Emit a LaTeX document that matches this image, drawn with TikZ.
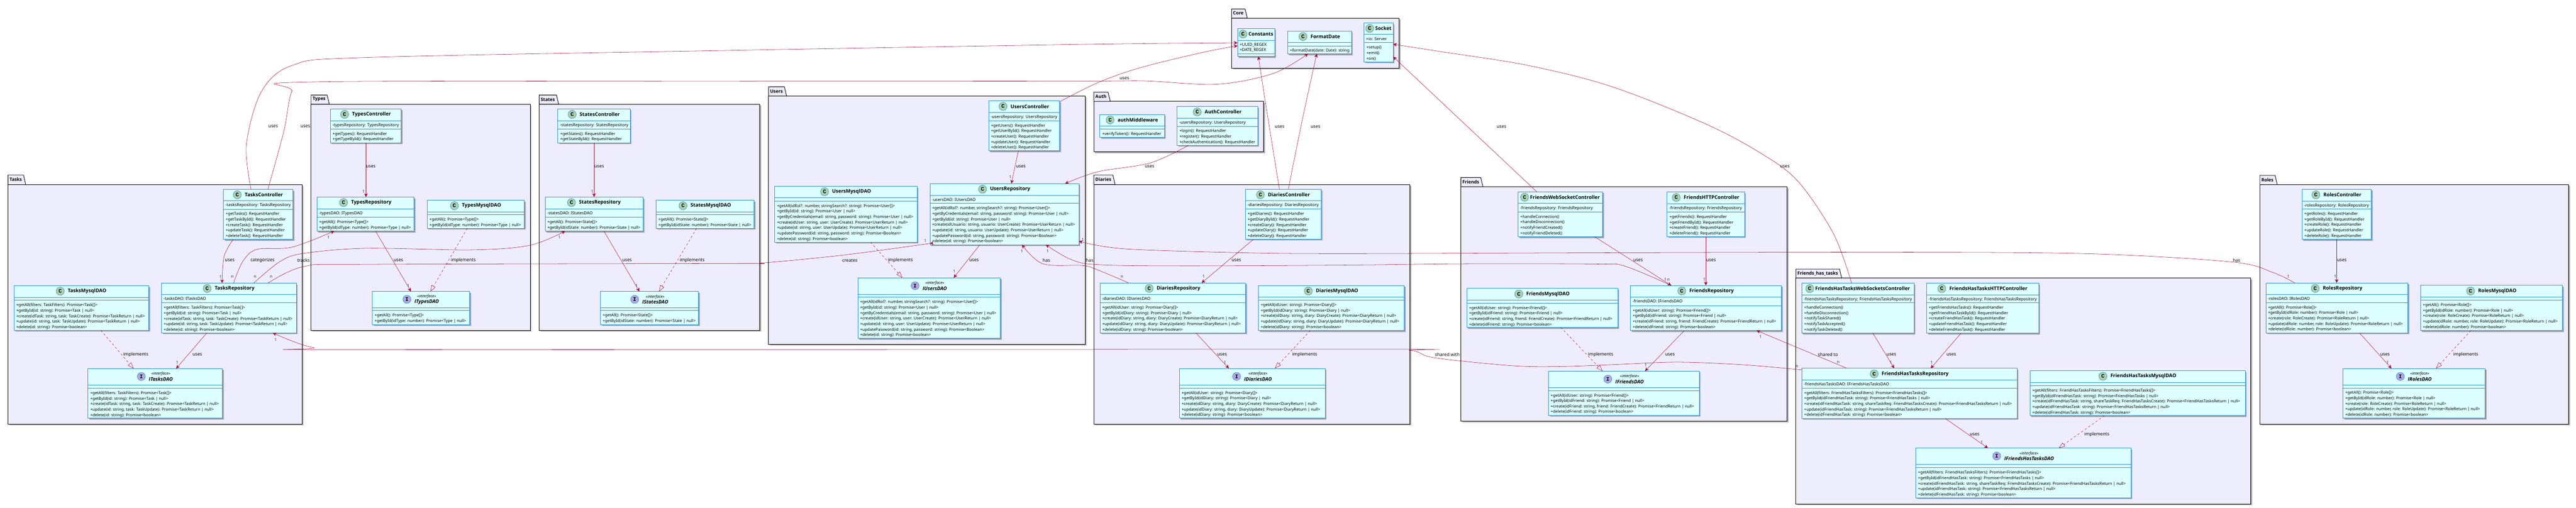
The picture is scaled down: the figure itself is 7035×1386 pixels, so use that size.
\documentclass[tikz,border=0pt]{standalone}
\usepackage{fontspec}
\setmainfont{Noto Sans}
\newfontfamily\boldfam{Open Sans}
\newfontfamily\iconfont{Liberation Mono}
\usetikzlibrary{arrows.meta,shadows}
\definecolor{edgec}{HTML}{A80036}
\definecolor{clsfill}{HTML}{DDFFFF}
\definecolor{clsline}{HTML}{2A93C9}
\definecolor{pkgfill}{HTML}{EEEDFE}
\definecolor{iconc}{HTML}{ADD1B2}
\definecolor{iconi}{HTML}{B4A7E5}
\newcommand\memfont{\fontsize{11.2}{15}\selectfont}
\newcommand\methfont{\fontsize{10.9}{15}\selectfont}
\newcommand\titlefont{\boldfam\fontsize{13.4}{16}\selectfont\bfseries}
\newcommand\pkgfont{\boldfam\fontsize{12.4}{15}\selectfont\bfseries}
\newcommand\labfont{\fontsize{12.2}{15}\selectfont}
\newcommand\multfont{\fontsize{11.4}{15}\selectfont}
\newdimen\tabw
\tikzset{
  softshadow/.style={drop shadow={shadow xshift=4.5pt,shadow yshift=-4.5pt,opacity=.14,fill=black},
    drop shadow={shadow xshift=3pt,shadow yshift=-3pt,opacity=.22,fill=black}},
  pkgbox/.style={draw=black,line width=1.3pt,fill=pkgfill,inner sep=0pt,outer sep=0pt,anchor=north west,softshadow},
  pkgtab/.style={draw=black,line width=1.3pt,fill=pkgfill,line join=round},
  pkgtext/.style={font=\pkgfont,anchor=west,inner sep=0pt},
  clsbox/.style={draw=clsline,line width=1.1pt,fill=clsfill,inner sep=0pt,outer sep=0pt,anchor=north west,softshadow},
  clssep/.style={draw=clsline,line width=.9pt},
  clsicon/.style={circle,draw=clsline,line width=.9pt,minimum size=22pt,inner sep=0pt,font=\iconfont\fontsize{15}{15}\selectfont\bfseries},
  clstitle/.style={font=\titlefont,inner sep=0pt},
  memtext/.style={font=\memfont,align=left,anchor=north west,inner sep=0pt},
  methtext/.style={font=\methfont,align=left,anchor=north west,inner sep=0pt},
  edgelab/.style={font=\labfont,inner sep=0pt},
  multlab/.style={font=\multfont,inner sep=0pt,text=black!80},
  rel/.style={draw=edgec,line width=.75pt,line join=round,-{Stealth[inset=3pt,length=10pt,width=9.5pt]}},
  impl/.style={draw=edgec,line width=.75pt,dashed,dash pattern=on 6pt off 6pt,-{Triangle[open,length=17pt,width=12pt,line width=.75pt,fill=none]}},
  curve/.style={smooth,tension=.55}
}
\newcount\labn
\newcommand\lab[3]{\global\advance\labn by 1 \node[edgelab] (lab\the\labn) at (#1,#2+1.3) {#3};}
\newcommand\mult[3]{\global\advance\labn by 1 \node[multlab] (lab\the\labn) at (#1,#2) {#3};}
% package: id, x1, tab top, body top, x2, y2, title
\newcommand\pkg[7]{%
  \pgfmathsetmacro\pw{#5-#2}\pgfmathsetmacro\ph{#6-#4}%
  \pgfinterruptpicture\setbox0=\hbox{\pkgfont #7}\global\tabw=\wd0 \endpgfinterruptpicture
  \pgfmathsetmacro\tabr{#2+4+\tabw+4.5}\pgfmathsetmacro\tabs{\tabr+6}%
  \pgfmathsetmacro\pty{(#3+#4)/2-.5}%
  \node[pkgbox,minimum width=\pw pt,minimum height=\ph pt] (#1) at (#2,#4) {};
  \draw[pkgtab] (#2,#4) -- (#2,#3) -- (\tabr,#3) -- (\tabs,#4) -- cycle;
  \node[pkgtext] (#1-title) at (#2+4,\pty) {#7};
}
\newcommand\tgap{9}
% class: id, x1, y1, x2, y2, s1, s2, kind (C/I), title ; then \clsnext{attrs}{methods}
\newcommand\cls[9]{%
  \pgfmathsetmacro\cw{#4-#2}\pgfmathsetmacro\ch{#5-#3}%
  \pgfmathsetmacro\hy{(#3+#6)/2-.7}%
  \pgfmathsetmacro\tx{(#2+#4)/2+(22.5+\tgap)/2}%
  \pgfmathsetmacro\mx{#2+5.5}%
  \pgfmathsetmacro\nx{#2+6.2}%
  \pgfmathsetmacro\ay{#6+5.2}\pgfmathsetmacro\my{#7+6.3}%
  \node[clsbox,minimum width=\cw pt,minimum height=\ch pt] (#1) at (#2,#3) {};
  \draw[clssep] (#1.west |- 0,#6) -- (#1.east |- 0,#6);
  \draw[clssep] (#1.west |- 0,#7) -- (#1.east |- 0,#7);
  \ifx C#8%
    \node[clstitle] (#1-t) at (\tx,\hy) {#9};
    \node[clsicon,fill=iconc,anchor=east] (#1-i) at ([xshift=-\tgap pt]#1-t.west) {C};
  \else
    \node[clstitle,align=center] (#1-t) at (\tx,\hy) {{\rmfamily\fontsize{10.6}{18.5}\selectfont\mdseries\itshape «interface»}\\{\itshape #9}};
    \node[clsicon,fill=iconi,anchor=east] (#1-i) at ([xshift=-\tgap pt]#1-t.west) {I};
  \fi
  \def\curid{#1}%
}
\newcommand\clsnext[2]{%
  \def\tmpa{#1}\ifx\tmpa\empty\else\node[memtext] (\curid-a) at (\mx,\ay) {\strut #1};\fi
  \def\tmpb{#2}\ifx\tmpb\empty\else\node[methtext] (\curid-m) at (\nx,\my) {\strut #2};\fi
}
\begin{document}
\begin{tikzpicture}[x=1pt,y=-1pt]
\useasboundingbox (0,0) rectangle (7035,1386);
\fill[white] (0,0) rectangle (7035,1386);
% ---------- packages
\pkg{Tasks}{22}{478}{504}{825}{1158}{Tasks}
\pkg{Types}{849.5}{259.5}{284.3}{1448}{902}{Types}
\pkg{States}{1472.6}{259.5}{284.3}{2075}{902}{States}
\pkg{Users}{2099}{237}{262}{2963.6}{940}{Users}
\pkg{Core}{3363.4}{24.4}{49.3}{3820.6}{186}{Core}
\pkg{Auth}{2987.3}{251.7}{277}{3450.5}{414.4}{Auth}
\pkg{Diaries}{2987.3}{478}{503.8}{3850.7}{1158}{Diaries}
\pkg{Friends}{3989.7}{485}{510}{4880.6}{1150}{Friends}
\pkg{FHT}{4904.5}{734.8}{759.3}{6147}{1376}{Friends\_has\_tasks}
\pkg{Roles}{6171.4}{478.7}{504}{7014.6}{1158}{Roles}
% ---------- Tasks
\cls{TC}{610}{517}{800}{654}{548}{571}{C}{TasksController}
\clsnext{-tasksRepository: TasksRepository}{+getTasks(): RequestHandler\\+getTaskById(): RequestHandler\\+createTask(): RequestHandler\\+updateTask(): RequestHandler\\+deleteTask(): RequestHandler}
\cls{TR}{441}{773}{809}{909}{804}{827}{C}{TasksRepository}
\clsnext{-tasksDAO: ITasksDAO}{+getAll(filters: TaskFilters): Promise<Task[]>\\+getById(id: string): Promise<Task | null>\\+create(idTask: string, task: TaskCreate): Promise<TaskReturn | null>\\+update(id: string, task: TaskUpdate): Promise<TaskReturn | null>\\+delete(id: string): Promise<boolean>}
\cls{TM}{38}{780}{406}{902}{812}{820}{C}{TasksMysqlDAO}
\clsnext{}{+getAll(filters: TaskFilters): Promise<Task[]>\\+getById(id: string): Promise<Task | null>\\+create(idTask: string, task: TaskCreate): Promise<TaskReturn | null>\\+update(id: string, task: TaskUpdate): Promise<TaskReturn | null>\\+delete(id: string): Promise<boolean>}
\cls{TI}{240}{1006.5}{607}{1142}{1051}{1060}{I}{ITasksDAO}
\clsnext{}{+getAll(filters: TaskFilters): Promise<Task[]>\\+getById(id: string): Promise<Task | null>\\+create(idTask: string, task: TaskCreate): Promise<TaskReturn | null>\\+update(id: string, task: TaskUpdate): Promise<TaskReturn | null>\\+delete(id: string): Promise<boolean>}
% ---------- Types
\cls{YC}{902}{297}{1095.7}{390}{329}{352}{C}{TypesController}
\clsnext{-typesRepository: TypesRepository}{+getTypes(): RequestHandler\\+getTypeById(): RequestHandler}
\cls{YR}{865.5}{538}{1131}{631}{570}{593}{C}{TypesRepository}
\clsnext{-typesDAO: ITypesDAO}{+getAll(): Promise<Type[]>\\+getById(idType: number): Promise<Type | null>}
\cls{YM}{1166.5}{546.6}{1432}{623.7}{578.4}{586}{C}{TypesMysqlDAO}
\clsnext{}{+getAll(): Promise<Type[]>\\+getById(idType: number): Promise<Type | null>}
\cls{YI}{1016.6}{796}{1282.5}{886.5}{840.6}{848}{I}{ITypesDAO}
\clsnext{}{+getAll(): Promise<Type[]>\\+getById(idType: number): Promise<Type | null>}
% ---------- States
\cls{SC}{1523.6}{297}{1720.7}{390}{329}{352}{C}{StatesController}
\clsnext{-statesRepository: StatesRepository}{+getStates(): RequestHandler\\+getStateById(): RequestHandler}
\cls{SR}{1488.5}{538}{1756.4}{631}{570}{593}{C}{StatesRepository}
\clsnext{-statesDAO: IStatesDAO}{+getAll(): Promise<State[]>\\+getById(idState: number): Promise<State | null>}
\cls{SM}{1791.5}{546.6}{2059.3}{623.7}{578.4}{586}{C}{StatesMysqlDAO}
\clsnext{}{+getAll(): Promise<State[]>\\+getById(idState: number): Promise<State | null>}
\cls{SI}{1639.7}{796}{1907.5}{886.5}{840.6}{848}{I}{IStatesDAO}
\clsnext{}{+getAll(): Promise<State[]>\\+getById(idState: number): Promise<State | null>}
% ---------- Users
\cls{UC}{2700}{275.4}{2893.5}{412}{307}{329.5}{C}{UsersController}
\clsnext{-usersRepository: UsersRepository}{+getUsers(): RequestHandler\\+getUserById(): RequestHandler\\+createUser(): RequestHandler\\+updateUser(): RequestHandler\\+deleteUser(): RequestHandler}
\cls{UR}{2539.5}{501.3}{2946.4}{668.3}{533.5}{555.4}{C}{UsersRepository}
\clsnext{-usersDAO: IUsersDAO}{+getAll(idRol?: number, stringSearch?: string): Promise<User[]>\\+getByCredentials(email: string, password: string): Promise<User | null>\\+getById(id: string): Promise<User | null>\\+create(idUsuario: string, usuario: UserCreate): Promise<UserReturn | null>\\+update(id: string, usuario: UserUpdate): Promise<UserReturn | null>\\+updatePassword(id: string, password: string): Promise<Boolean>\\+delete(id: string): Promise<boolean>}
\cls{UM}{2115.4}{508.5}{2504.5}{661.2}{540}{548.7}{C}{UsersMysqlDAO}
\clsnext{}{+getAll(idRol?: number, stringSearch?: string): Promise<User[]>\\+getById(id: string): Promise<User | null>\\+getByCredentials(email: string, password: string): Promise<User | null>\\+create(idUser: string, user: UserCreate): Promise<UserReturn | null>\\+update(id: string, user: UserUpdate): Promise<UserReturn | null>\\+updatePassword(id: string, password: string): Promise<Boolean>\\+delete(id: string): Promise<boolean>}
\cls{UI}{2342.5}{758.5}{2731.5}{924}{803.5}{811.5}{I}{IUsersDAO}
\clsnext{}{+getAll(idRol?: number, stringSearch?: string): Promise<User[]>\\+getById(id: string): Promise<User | null>\\+getByCredentials(email: string, password: string): Promise<User | null>\\+create(idUser: string, user: UserCreate): Promise<UserReturn | null>\\+update(id: string, user: UserUpdate): Promise<UserReturn | null>\\+updatePassword(id: string, password: string): Promise<Boolean>\\+delete(id: string): Promise<boolean>}
% ---------- Core
\renewcommand\tgap{3.5}
\cls{KC}{3379.7}{77.5}{3481}{154}{109.6}{146.4}{C}{Constants}
\clsnext{+UUID\_REGEX\\+DATE\_REGEX}{}
\renewcommand\tgap{9}
\cls{KF}{3516.5}{84.7}{3690.7}{147}{116}{125}{C}{FormatDate}
\clsnext{}{+formatDate(date: Date): string}
\renewcommand\tgap{3.5}
\cls{KS}{3725}{62.4}{3804.7}{169}{93.9}{116.4}{C}{Socket}
\clsnext{+io: Server}{+setup()\\+emit()\\+on()}
\renewcommand\tgap{9}
% ---------- Auth
\cls{AM}{3003.6}{312.4}{3179.7}{375}{344}{352.6}{C}{authMiddleware}
\clsnext{}{+verifyToken(): RequestHandler}
\cls{AC}{3214.6}{290.4}{3434.7}{397}{322.5}{344.5}{C}{AuthController}
\clsnext{-usersRepository: UsersRepository}{+login(): RequestHandler\\+register(): RequestHandler\\+checkAuthentication(): RequestHandler}
% ---------- Diaries
\cls{DC}{3400.7}{516.7}{3608}{653}{548.3}{570.8}{C}{DiariesController}
\clsnext{-diariesRepository: DiariesRepository}{+getDiaries(): RequestHandler\\+getDiaryById(): RequestHandler\\+createDiary(): RequestHandler\\+updateDiary(): RequestHandler\\+deleteDiary(): RequestHandler}
\cls{DR}{3003.8}{772.5}{3401.4}{909}{804}{826.5}{C}{DiariesRepository}
\clsnext{-diariesDAO: IDiariesDAO}{+getAll(idUser: string): Promise<Diary[]>\\+getById(idDiary: string): Promise<Diary | null>\\+create(idDiary: string, diary: DiaryCreate): Promise<DiaryReturn | null>\\+update(idDiary: string, diary: DiaryUpdate): Promise<DiaryReturn | null>\\+delete(idDiary: string): Promise<boolean>}
\cls{DM}{3436.6}{779.6}{3834.7}{902.6}{811.5}{819.5}{C}{DiariesMysqlDAO}
\clsnext{}{+getAll(idUser: string): Promise<Diary[]>\\+getById(idDiary: string): Promise<Diary | null>\\+create(idDiary: string, diary: DiaryCreate): Promise<DiaryReturn | null>\\+update(idDiary: string, diary: DiaryUpdate): Promise<DiaryReturn | null>\\+delete(idDiary: string): Promise<boolean>}
\cls{DI}{3220.6}{1006}{3618.8}{1142}{1051.4}{1059.4}{I}{IDiariesDAO}
\clsnext{}{+getAll(idUser: string): Promise<Diary[]>\\+getById(idDiary: string): Promise<Diary | null>\\+create(idDiary: string, diary: DiaryCreate): Promise<DiaryReturn | null>\\+update(idDiary: string, diary: DiaryUpdate): Promise<DiaryReturn | null>\\+delete(idDiary: string): Promise<boolean>}
% ---------- Friends
\renewcommand\tgap{3.5}
\cls{FW}{4145.5}{523.5}{4376.5}{646.5}{555.4}{578.4}{C}{FriendsWebSocketController}
\clsnext{-friendsRepository: FriendsRepository}{+handleConnection()\\+handleDisconnection()\\+notifyFriendCreated()\\+notifyFriendDeleted()}
\renewcommand\tgap{9}
\cls{FH}{4552.8}{524}{4764}{645.8}{556.3}{579}{C}{FriendsHTTPController}
\clsnext{-friendsRepository: FriendsRepository}{+getFriends(): RequestHandler\\+getFriendById(): RequestHandler\\+createFriend(): RequestHandler\\+deleteFriend(): RequestHandler}
\cls{FR}{4452.5}{779.5}{4864.5}{902.5}{811}{834.5}{C}{FriendsRepository}
\clsnext{-friendsDAO: IFriendsDAO}{+getAll(idUser: string): Promise<Friend[]>\\+getById(idFriend: string): Promise<Friend | null>\\+create(idFriend: string, friend: FriendCreate): Promise<FriendReturn | null>\\+delete(idFriend: string): Promise<boolean>}
\cls{FM}{4005.6}{787.6}{4417.8}{894}{819.5}{827.5}{C}{FriendsMysqlDAO}
\clsnext{}{+getAll(idUser: string): Promise<Friend[]>\\+getById(idFriend: string): Promise<Friend | null>\\+create(idFriend: string, friend: FriendCreate): Promise<FriendReturn | null>\\+delete(idFriend: string): Promise<boolean>}
\cls{FI}{4228.6}{1013.4}{4640.6}{1134}{1058.5}{1066.4}{I}{IFriendsDAO}
\clsnext{}{+getAll(idUser: string): Promise<Friend[]>\\+getById(idFriend: string): Promise<Friend | null>\\+create(idFriend: string, friend: FriendCreate): Promise<FriendReturn | null>\\+delete(idFriend: string): Promise<boolean>}
% ---------- Friends_has_tasks
\renewcommand\tgap{3.5}
\cls{HW}{4920.6}{773}{5226.9}{909.7}{804.6}{826.7}{C}{FriendsHasTasksWebSocketsController}
\clsnext{-friendsHasTasksRepository: FriendsHasTasksRepository}{+handleConnection()\\+handleDisconnection()\\+notifyTaskShared()\\+notifyTaskAccepted()\\+notifyTaskDeleted()}
\renewcommand\tgap{9}
\cls{HH}{5261.3}{773}{5567.6}{909.7}{804.6}{826.7}{C}{FriendsHasTasksHTTPController}
\clsnext{-friendsHasTasksRepository: FriendsHasTasksRepository}{+getFriendsHasTasks(): RequestHandler\\+getFriendHasTaskById(): RequestHandler\\+createFriendHasTask(): RequestHandler\\+updateFriendHasTask(): RequestHandler\\+deleteFriendHasTask(): RequestHandler}
\cls{HR}{4920.6}{1005.8}{5508.5}{1142.5}{1037.5}{1059.6}{C}{FriendsHasTasksRepository}
\clsnext{-friendsHasTasksDAO: IFriendsHasTasksDAO}{+getAll(filters: FriendHasTasksFilters): Promise<FriendHasTasks[]>\\+getById(idFriendHasTask: string): Promise<FriendHasTasks | null>\\+create(idFriendHasTask: string, shareTaskReq: FriendHasTasksCreate): Promise<FriendHasTasksReturn | null>\\+update(idFriendHasTask: string): Promise<FriendHasTasksReturn | null>\\+delete(idFriendHasTask: string): Promise<boolean>}
\cls{HM}{5543.7}{1012.4}{6131.8}{1135}{1044}{1053}{C}{FriendsHasTasksMysqlDAO}
\clsnext{}{+getAll(filters: FriendHasTasksFilters): Promise<FriendHasTasks[]>\\+getById(idFriendHasTask: string): Promise<FriendHasTasks | null>\\+create(idFriendHasTask: string, shareTaskReq: FriendHasTasksCreate): Promise<FriendHasTasksReturn | null>\\+update(idFriendHasTask: string): Promise<FriendHasTasksReturn | null>\\+delete(idFriendHasTask: string): Promise<boolean>}
\cls{HI}{5231.6}{1223.7}{5819.6}{1359}{1268.5}{1277}{I}{IFriendsHasTasksDAO}
\clsnext{}{+getAll(filters: FriendHasTasksFilters): Promise<FriendHasTasks[]>\\+getById(idFriendHasTask: string): Promise<FriendHasTasks | null>\\+create(idFriendHasTask: string, shareTaskReq: FriendHasTasksCreate): Promise<FriendHasTasksReturn | null>\\+update(idFriendHasTask: string): Promise<FriendHasTasksReturn | null>\\+delete(idFriendHasTask: string): Promise<boolean>}
% ---------- Roles
\cls{RC}{6286.6}{516.4}{6476}{653.5}{549}{570.5}{C}{RolesController}
\clsnext{-rolesRepository: RolesRepository}{+getRoles(): RequestHandler\\+getRoleById(): RequestHandler\\+createRole(): RequestHandler\\+updateRole(): RequestHandler\\+deleteRole(): RequestHandler}
\cls{RR}{6187.8}{772.6}{6575.5}{909}{804}{826}{C}{RolesRepository}
\clsnext{-rolesDAO: IRolesDAO}{+getAll(): Promise<Role[]>\\+getById(idRole: number): Promise<Role | null>\\+create(role: RoleCreate): Promise<RoleReturn | null>\\+update(idRole: number, role: RoleUpdate): Promise<RoleReturn | null>\\+delete(idRole: number): Promise<boolean>}
\cls{RM}{6610.5}{779.3}{6998}{902.4}{811.5}{819.4}{C}{RolesMysqlDAO}
\clsnext{}{+getAll(): Promise<Role[]>\\+getById(idRole: number): Promise<Role | null>\\+create(role: RoleCreate): Promise<RoleReturn | null>\\+update(idRole: number, role: RoleUpdate): Promise<RoleReturn | null>\\+delete(idRole: number): Promise<boolean>}
\cls{RI}{6398.3}{1006.2}{6786.6}{1142.2}{1051.4}{1059.3}{I}{IRolesDAO}
\clsnext{}{+getAll(): Promise<Role[]>\\+getById(idRole: number): Promise<Role | null>\\+create(role: RoleCreate): Promise<RoleReturn | null>\\+update(idRole: number, role: RoleUpdate): Promise<RoleReturn | null>\\+delete(idRole: number): Promise<boolean>}
% ---------- long connectors
\draw[rel] plot[curve] coordinates {(685.6,0 |- TC.north) (673,395) (714,250) (800,178) (1000,157) (2000,137.5) (3000,120.5) (KC.west |- 0,117)};
\draw[rel] plot[curve] coordinates {(731.5,0 |- TC.north) (775,359) (797,250) (840,224) (2000,222) (2950,221.5) (3127,221) (3323,230) (3476,201) (3572,0 |- KF.south)};
\draw[rel] plot[curve] coordinates {(UC.east |- 0,278) (3000,225) (3117,184) (3285,143) (KC.west |- 0,125)};
\draw[rel] plot[curve] coordinates {(3494,0 |- DC.north) (3457,287) (3436.6,0 |- KC.south)};
\draw[rel] plot[curve] coordinates {(3518.4,0 |- DC.north) (3558,320) (3596,0 |- KF.south)};
\draw[rel] (4196.7,0 |- FW.north) -- (KS.east |- 0,155);
\draw[rel] plot[curve] coordinates {(5056.6,0 |- HW.north) (5007,638) (4910,495) (4808,418) (4655,337) (4400,236) (4169.5,178) (3934.7,141) (KS.east |- 0,120.7)};
\draw[rel] plot[curve] coordinates {(636.5,0 |- TC.south) (612,700) (606.5,0 |- TR.north)};
\draw[rel] plot[curve] coordinates {(637.7,0 |- TR.north) (663,714) (701.5,681) (797,675) (913,0 |- YR.south)};
\draw[rel] plot[curve] coordinates {(693,0 |- TR.north) (765,714) (829,692) (1000,678) (1287,682.4) (1446,670) (1543.4,0 |- SR.south)};
\draw[rel] plot[curve] coordinates {(732,0 |- TR.north) (829,728) (1000,722) (2000,719.4) (2083,718) (2300,697) (2510,669) (UR.west |- 0,665)};
\draw[rel] plot[curve] coordinates {(HR.west |- 0,1010) (4758,996) (4579,989) (4400,996) (4263,1001) (4146,999.8) (3989,985.7) (3902,974) (3850,956.6) (3700,953.8) (1000,954.5) (854.6,949) (745,0 |- TR.south)};
\draw[rel] (5044,0 |- HR.north) -- (4797,0 |- FR.south);
\draw[rel] plot[curve] coordinates {(3082,0 |- DR.north) (3000,738) (2956.6,725) (2848,720.4) (2790.8,0 |- UR.south)};
\draw[rel] plot[curve] coordinates {(4564,0 |- FR.north) (4436,726.4) (4357,721) (4000,720.4) (3700,723.7) (3235,726) (3000,722.8) (2925,708.7) (2856,0 |- UR.south)};
\draw[rel] plot[curve] coordinates {(6267,0 |- RR.north) (6206.4,743.8) (6097.8,715.7) (5727.6,693.6) (5250,688.8) (4436,690) (3700,692.6) (3404.5,690.4) (3070,679.4) (UR.east |- 0,658.5)};
\draw[rel] plot[curve] coordinates {(3245.7,0 |- AC.south) (3141,445) (2998,469) (2908.8,0 |- UR.north)};
% ---------- local connectors
\draw[rel] (2781,0 |- UC.south) -- (2762,0 |- UR.north);
\draw[rel] (2676,0 |- UR.south) -- (2604.6,0 |- UI.north);
\draw[impl] (2377.5,0 |- UM.south) -- (2464.3,0 |- UI.north);
\draw[rel] (3423.7,0 |- DC.south) -- (3281.7,0 |- DR.north);
\draw[rel] (3265.7,0 |- DR.south) -- (3356,0 |- DI.north);
\draw[impl] (3578.4,0 |- DM.south) -- (3481.7,0 |- DI.north);
\draw[rel] (4355,0 |- FW.south) -- (4564,0 |- FR.north);
\draw[rel] (4658.5,0 |- FH.south) -- (4658.5,0 |- FR.north);
\draw[rel] (4600,0 |- FR.south) -- (4492.5,0 |- FI.north);
\draw[impl] (4262.4,0 |- FM.south) -- (4376.5,0 |- FI.north);
\draw[rel] (5114.6,0 |- HW.south) -- (5173,0 |- HR.north);
\draw[rel] (5355.7,0 |- HH.south) -- (5272.7,0 |- HR.north);
\draw[rel] (5312,0 |- HR.south) -- (5429,0 |- HI.north);
\draw[impl] (5747.3,0 |- HM.south) -- (5622.5,0 |- HI.north);
\draw[rel] (6381.4,0 |- RC.south) -- (6381.4,0 |- RR.north);
\draw[rel] (6443.5,0 |- RR.south) -- (6531,0 |- RI.north);
\draw[impl] (6748,0 |- RM.south) -- (6652.8,0 |- RI.north);
\draw[rel] (565,0 |- TR.south) -- (481,0 |- TI.north);
\draw[impl] (275.5,0 |- TM.south) -- (364.8,0 |- TI.north);
\draw[rel] (999.4,0 |- YC.south) -- (999.4,0 |- YR.north);
\draw[rel] (1025.5,0 |- YR.south) -- (1122.4,0 |- YI.north);
\draw[impl] (1276,0 |- YM.south) -- (1175.4,0 |- YI.north);
\draw[rel] (1622.4,0 |- SC.south) -- (1622.4,0 |- SR.north);
\draw[rel] (1649.2,0 |- SR.south) -- (1746.2,0 |- SI.north);
\draw[impl] (1902.4,0 |- SM.south) -- (1799.7,0 |- SI.north);
% ---------- labels
\lab{746}{344}{uses} \lab{834}{344}{uses}
\lab{3070.6}{213}{uses} \lab{3494.5}{344.5}{uses} \lab{3592.6}{344.5}{uses}
\lab{4100.5}{345}{uses} \lab{4874.5}{453.6}{uses}
\lab{3139.5}{453.6}{uses} \lab{2788}{454}{uses}
\lab{627.5}{709.4}{uses} \lab{717}{709.4}{categorizes} \lab{829}{709.4}{tracks}
\lab{2321}{709.6}{creates} \lab{3952.6}{967}{shared with} \lab{4992}{967}{shared to}
\lab{2857.8}{709.6}{has} \lab{2975.8}{709.6}{has} \lab{6108}{709.7}{has}
\lab{2660}{709.6}{uses} \lab{2459}{709.6}{implements}
\lab{3376.5}{709.6}{uses} \lab{3337.6}{967}{uses} \lab{3563.4}{967}{implements}
\lab{4473.5}{709.7}{uses} \lab{4672.8}{709.7}{uses} \lab{4560.6}{967}{uses} \lab{4371.4}{967}{implements}
\lab{5165.4}{967}{uses} \lab{5328.8}{967}{uses} \lab{5392.7}{1185}{uses} \lab{5726.4}{1185}{implements}
\lab{6395.5}{709.4}{uses} \lab{6513.4}{966.7}{uses} \lab{6734}{966.7}{implements}
\lab{539}{966.7}{uses} \lab{371}{966.7}{implements}
\lab{1012.7}{453.4}{uses} \lab{1088}{709.8}{uses} \lab{1265.3}{709.8}{implements}
\lab{1636.5}{453.4}{uses} \lab{1712.4}{709.8}{uses} \lab{1890.3}{709.8}{implements}
% ---------- multiplicities
\mult{602}{756}{1} \mult{634.5}{756}{n} \mult{696.5}{756}{n} \mult{740.5}{756}{n}
\mult{897}{648.5}{1} \mult{1528}{648.6}{1} \mult{2527}{658.5}{1}
\mult{752.5}{927.5}{1} \mult{4907.5}{1001}{n}
\mult{5020}{990}{n} \mult{4808}{920}{1}
\mult{2790.8}{686}{1} \mult{3064}{755.6}{n} \mult{2861}{686}{1} \mult{2957}{654.7}{1}
\mult{6249.3}{755.6}{1}
\mult{2759}{484}{1} \mult{2606}{741.5}{1}
\mult{3287}{755.6}{1} \mult{3345.5}{989.4}{1}
\mult{4548}{764}{1} \mult{4556.4}{764}{n} \mult{4654.3}{764}{1} \mult{4494.3}{997.5}{1}
\mult{5163.6}{990}{1} \mult{5275}{990}{1} \mult{5412.4}{1207.6}{1}
\mult{6377.4}{755.6}{1} \mult{6520.2}{990}{1}
\mult{484}{990.6}{1}
\mult{993}{522.5}{1} \mult{1114.8}{780}{1}
\mult{1617.3}{523}{1} \mult{1738.5}{780}{1}
\end{tikzpicture}
\end{document}
